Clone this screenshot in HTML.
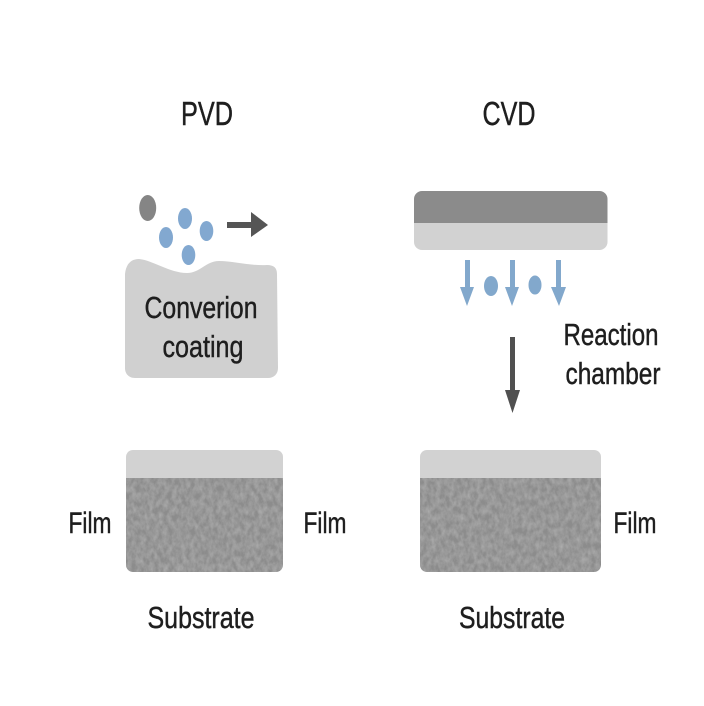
<!DOCTYPE html>
<html>
<head>
<meta charset="utf-8">
<style>
html,body{margin:0;padding:0;background:#fff}
svg{display:block}
text{font-family:"Liberation Sans",sans-serif;fill:#1e1e1e;stroke:#1e1e1e;stroke-width:.45;text-anchor:middle}
</style>
</head>
<body>
<svg width="704" height="706" viewBox="0 0 704 706" xmlns="http://www.w3.org/2000/svg">
<defs>
<filter id="n" x="0" y="0" width="100%" height="100%">
<feTurbulence type="fractalNoise" baseFrequency="0.22 0.14" numOctaves="3" seed="7"/>
<feColorMatrix values="0 0 0 0 0.72  0 0 0 0 0.72  0 0 0 0 0.72  0.5 0 0 0 -0.14"/>
<feComposite in2="SourceGraphic" operator="in" result="t"/>
<feMerge><feMergeNode in="SourceGraphic"/><feMergeNode in="t"/></feMerge>
</filter>
<clipPath id="c1"><rect x="126" y="450" width="157" height="122" rx="7"/></clipPath>
<clipPath id="c2"><rect x="420" y="450" width="181" height="122" rx="7"/></clipPath>
<clipPath id="c3"><rect x="414" y="191" width="193.500" height="59" rx="8"/></clipPath>
</defs>
<rect width="704" height="706" fill="#fff"/>

<text x="207" y="125" font-size="33" textLength="52" lengthAdjust="spacingAndGlyphs">PVD</text>
<text x="509" y="125" font-size="33" textLength="53" lengthAdjust="spacingAndGlyphs">CVD</text>

<!-- PVD top -->
<ellipse cx="147.700" cy="208" rx="8.500" ry="13" fill="#858585"/>
<ellipse cx="185" cy="218.500" rx="7" ry="10.500" fill="#82a8d0"/>
<ellipse cx="166" cy="237.500" rx="7" ry="10.500" fill="#82a8d0"/>
<ellipse cx="206.500" cy="231" rx="6.800" ry="10" fill="#82a8d0"/>
<ellipse cx="188.500" cy="255" rx="6.800" ry="10" fill="#82a8d0"/>
<path d="M227 222H251V212L268 225L251 237V228H227Z" fill="#555"/>
<path d="M125 274C126 264 131 259 139 259C152 260 170 273 187 273C200 273 206 261 219 261C234 261 250 266 267 265C274 265 277 268 277 274L278 368C278 374 274 378 268 378H135C129 378 125 374 125 368Z" fill="#d0d0d0"/>
<text x="201" y="318" font-size="31" textLength="113" lengthAdjust="spacingAndGlyphs">Converion</text>
<text x="203" y="357" font-size="31" textLength="81" lengthAdjust="spacingAndGlyphs">coating</text>

<!-- CVD top -->
<g clip-path="url(#c3)">
<rect x="414" y="191" width="194" height="32" fill="#8b8b8b"/>
<rect x="414" y="223" width="194" height="27" fill="#d2d2d2"/>
</g>
<g fill="#82a8cc">
<path d="M465 260H470V287H474L467 306L460 287H465Z"/>
<path d="M510 260H515V287H519L512 306L505 287H510Z"/>
<path d="M556 260H561V287H566L559 306L551 287H556Z"/>
<ellipse cx="491" cy="286" rx="7" ry="10"/>
<ellipse cx="535" cy="285" rx="6.500" ry="9.500"/>
</g>
<path d="M510 337H515V390H520L512.500 413L505 390H510Z" fill="#505050"/>
<text x="611" y="345" font-size="31" textLength="95" lengthAdjust="spacingAndGlyphs">Reaction</text>
<text x="613" y="384" font-size="31" textLength="95" lengthAdjust="spacingAndGlyphs">chamber</text>

<!-- Bottom left -->
<g clip-path="url(#c1)">
<rect x="126" y="450" width="157" height="28" fill="#d2d2d2"/>
<rect x="126" y="478" width="157" height="94" fill="#8c8c8c" filter="url(#n)"/>
</g>
<!-- Bottom right -->
<g clip-path="url(#c2)">
<rect x="420" y="450" width="181" height="28" fill="#d2d2d2"/>
<rect x="420" y="478" width="181" height="94" fill="#8c8c8c" filter="url(#n)"/>
</g>

<text x="90" y="533" font-size="30" textLength="43" lengthAdjust="spacingAndGlyphs">Film</text>
<text x="325" y="533" font-size="30" textLength="43" lengthAdjust="spacingAndGlyphs">Film</text>
<text x="635" y="533" font-size="30" textLength="43" lengthAdjust="spacingAndGlyphs">Film</text>
<text x="201" y="628" font-size="31" textLength="107" lengthAdjust="spacingAndGlyphs">Substrate</text>
<text x="512" y="628" font-size="31" textLength="106" lengthAdjust="spacingAndGlyphs">Substrate</text>
</svg>
</body>
</html>
